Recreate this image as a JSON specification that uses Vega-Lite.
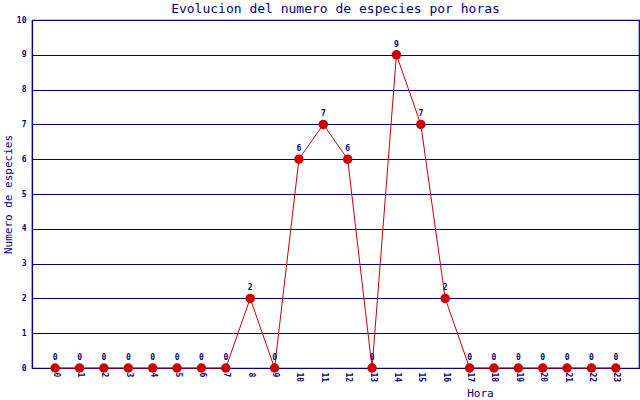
{
  "$schema": "https://vega.github.io/schema/vega-lite/v6.json",
  "autosize": "none",
  "width": 607,
  "height": 348,
  "padding": {"left": 32, "top": 20, "right": 1, "bottom": 32},
  "background": "white",
  "title": {
    "text": "Evolucion del numero de especies por horas",
    "font": "DejaVu Sans Mono",
    "fontSize": 13,
    "fontWeight": "normal",
    "color": "#000080",
    "anchor": "middle",
    "baseline": "alphabetic",
    "offset": 0,
    "dy": 10
  },
  "data": {
    "values": [
      {"Hora": 0, "Especies": 0}, {"Hora": 1, "Especies": 0}, {"Hora": 2, "Especies": 0},
      {"Hora": 3, "Especies": 0}, {"Hora": 4, "Especies": 0}, {"Hora": 5, "Especies": 0},
      {"Hora": 6, "Especies": 0}, {"Hora": 7, "Especies": 0}, {"Hora": 8, "Especies": 2},
      {"Hora": 9, "Especies": 0}, {"Hora": 10, "Especies": 6}, {"Hora": 11, "Especies": 7},
      {"Hora": 12, "Especies": 6}, {"Hora": 13, "Especies": 0}, {"Hora": 14, "Especies": 9},
      {"Hora": 15, "Especies": 7}, {"Hora": 16, "Especies": 2}, {"Hora": 17, "Especies": 0},
      {"Hora": 18, "Especies": 0}, {"Hora": 19, "Especies": 0}, {"Hora": 20, "Especies": 0},
      {"Hora": 21, "Especies": 0}, {"Hora": 22, "Especies": 0}, {"Hora": 23, "Especies": 0}
    ]
  },
  "encoding": {
    "x": {
      "field": "Hora",
      "type": "quantitative",
      "scale": {"domain": [-0.95, 23.95], "nice": false, "zero": false},
      "axis": {
        "title": "Hora",
        "values": [0,1,2,3,4,5,6,7,8,9,10,11,12,13,14,15,16,17,18,19,20,21,22,23],
        "labelAngle": 90,
        "labelAlign": "left",
        "labelBaseline": "middle",
        "labelPadding": 4,
        "labelFontSize": 8,
        "labelFontWeight": "bold",
        "labelFont": "DejaVu Sans Mono",
        "labelColor": "#000080",
        "labelOverlap": false,
        "grid": false,
        "domain": false,
        "ticks": false,
        "titleFont": "DejaVu Sans Mono",
        "titleFontSize": 11,
        "titleFontWeight": "normal",
        "titleColor": "#000080",
        "titleX": 448,
        "titleY": 25,
        "titleAlign": "center",
        "titleBaseline": "middle"
      }
    },
    "y": {
      "field": "Especies",
      "type": "quantitative",
      "scale": {"domain": [0, 10], "nice": false},
      "axis": {
        "title": "Numero de especies",
        "values": [0,1,2,3,4,5,6,7,8,9,10],
        "labelFontSize": 8,
        "labelFontWeight": "bold",
        "labelFont": "DejaVu Sans Mono",
        "labelColor": "#000080",
        "labelPadding": 6,
        "ticks": false,
        "domain": true,
        "domainColor": "#000080",
        "domainWidth": 1.2,
        "grid": true,
        "gridColor": "#000080",
        "gridOpacity": 1,
        "gridWidth": 1.2,
        "titleFont": "DejaVu Sans Mono",
        "titleFontSize": 11,
        "titleFontWeight": "normal",
        "titleColor": "#000080",
        "titleX": -24,
        "titleY": 174,
        "titleAlign": "center",
        "titleBaseline": "middle",
        "titleAngle": 270
      }
    }
  },
  "layer": [
    {"mark": {"type": "line", "color": "#cc0000", "strokeWidth": 1}},
    {"mark": {"type": "point", "filled": true, "color": "#cc0000", "size": 90, "opacity": 1}},
    {
      "mark": {"type": "text", "dy": -10, "fontSize": 8, "fontWeight": "bold", "font": "DejaVu Sans Mono", "color": "#000080"},
      "encoding": {"text": {"field": "Especies", "type": "quantitative"}}
    }
  ],
  "config": {
    "view": {"stroke": "#000080", "strokeWidth": 1.2}
  }
}
